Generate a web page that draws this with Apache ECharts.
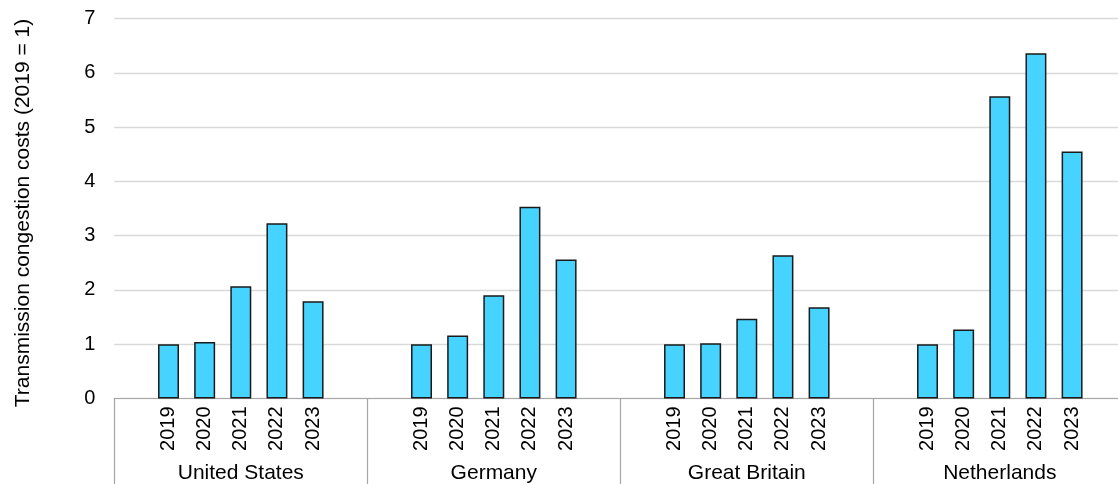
<!DOCTYPE html>
<html>
<head>
<meta charset="utf-8">
<script src="https://cdn.jsdelivr.net/npm/echarts@6/dist/echarts.min.js"></script>
<style>
  html, body { margin: 0; padding: 0; background: #fff; }
  #chart { width: 1118px; height: 484px; }
</style>
</head>
<body>
<div id="chart"></div>
<script>
// Country groups and the years shown inside each group
const groups = ['United States', 'Germany', 'Great Britain', 'Netherlands'];
const years = ['2019', '2020', '2021', '2022', '2023'];

// Transmission congestion costs, indexed to 2019 = 1
const unitedStates = [1.00, 1.04, 2.07, 3.23, 1.79];
const germany      = [1.00, 1.16, 1.90, 3.53, 2.56];
const greatBritain = [1.00, 1.02, 1.47, 2.64, 1.68];
const netherlands  = [1.00, 1.27, 5.57, 6.36, 4.55];

const yTicks = [0, 1, 2, 3, 4, 5, 6, 7];
const yTitle = 'Transmission congestion costs (2019 = 1)';

// Each group gets an empty slot before and after its five years
const seriesByGroup = [unitedStates, germany, greatBritain, netherlands];
const slots = [];
const slotValues = [];
groups.forEach((g, gi) => {
  slots.push(g + '|pre'); slotValues.push(null);
  years.forEach((y, yi) => {
    slots.push(g + '|' + y);
    slotValues.push(seriesByGroup[gi][yi]);
  });
  slots.push(g + '|post'); slotValues.push(null);
});

const FONT = '"Liberation Sans", Arial, sans-serif';
const chart = echarts.init(document.getElementById('chart'), null, { renderer: 'canvas' });

chart.setOption({
  animation: false,
  backgroundColor: '#ffffff',
  // the plot runs slightly past the right edge of the canvas
  grid: {
    left: 114.3, width: 1012, top: 18.5, height: 380,
    containLabel: false, outerBoundsMode: 'none'
  },
  xAxis: [
    {
      type: 'category',
      data: slots,
      boundaryGap: true,
      position: 'bottom',
      axisLine: { show: true, lineStyle: { color: '#a6a6a6', width: 1.2 } },
      axisTick: { show: false },
      axisLabel: {
        interval: 0,
        rotate: 90,
        margin: 8,
        fontFamily: FONT,
        fontSize: 20,
        color: '#000',
        formatter: v => {
          const y = v.split('|')[1];
          return years.includes(y) ? y : '';
        }
      },
      splitLine: { show: false }
    },
    {
      type: 'category',
      data: groups,
      boundaryGap: true,
      position: 'bottom',
      axisLine: { show: false },
      axisTick: { show: true, length: 92, interval: 0, lineStyle: { color: '#a6a6a6', width: 1.2 } },
      axisLabel: {
        interval: 0,
        margin: 64,
        fontFamily: FONT,
        fontSize: 21,
        color: '#000'
      },
      splitLine: { show: false }
    }
  ],
  yAxis: {
    type: 'value',
    min: yTicks[0],
    max: yTicks[yTicks.length - 1],
    interval: 1,
    axisLine: { show: false },
    axisTick: { show: false },
    axisLabel: { margin: 19, fontFamily: FONT, fontSize: 20, color: '#000' },
    splitLine: { show: true, lineStyle: { color: '#d9d9d9', width: 1.3 } }
  },
  graphic: [
    {
      type: 'text',
      x: 23,
      y: 213,
      rotation: Math.PI / 2,
      style: {
        text: yTitle,
        fontFamily: FONT,
        fontSize: 21,
        fill: '#000',
        align: 'center',
        verticalAlign: 'middle'
      }
    }
  ],
  series: [
    {
      type: 'bar',
      xAxisIndex: 0,
      data: slotValues,
      barWidth: '58%',
      itemStyle: { color: '#47d3ff', borderColor: '#1a1a1a', borderWidth: 1.5 }
    }
  ]
});
</script>
</body>
</html>
